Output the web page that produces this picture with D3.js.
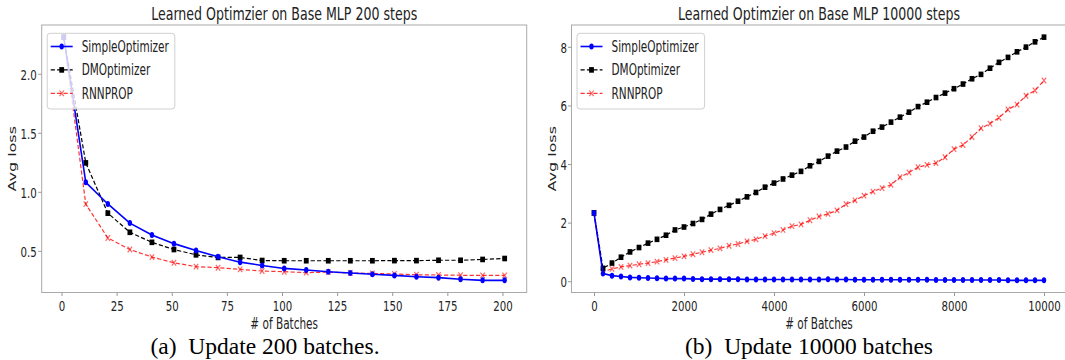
<!DOCTYPE html>
<html>
<head>
<meta charset="utf-8">
<script src="https://cdn.jsdelivr.net/npm/d3@7"></script>
<style>
  body { margin: 0; background: #fff; }
  svg { display: block; }
</style>
</head>
<body>
<svg id="fig" width="1065" height="360"></svg>
<script>
// ---- data ----
var seriesNames = ['SimpleOptimizer', 'DMOptimizer', 'RNNPROP'];

// panel (a): 200 steps
var batchesA = [1, 11, 21, 31, 41, 51, 61, 71, 81, 91, 101, 111, 121, 131, 141, 151, 161, 171, 181, 191, 201];
var simpleA = [2.31, 1.08, 0.897, 0.735, 0.634, 0.561, 0.502, 0.45, 0.404, 0.376, 0.351, 0.337, 0.323, 0.312, 0.301, 0.292, 0.281, 0.273, 0.259, 0.25, 0.25];
var dmA = [2.31, 1.245, 0.819, 0.657, 0.572, 0.511, 0.466, 0.444, 0.444, 0.418, 0.416, 0.416, 0.416, 0.416, 0.416, 0.417, 0.417, 0.42, 0.42, 0.427, 0.435];
var rnnA = [2.31, 0.895, 0.609, 0.511, 0.447, 0.399, 0.366, 0.357, 0.343, 0.329, 0.323, 0.315, 0.32, 0.312, 0.309, 0.304, 0.297, 0.295, 0.293, 0.292, 0.292];
var xTicksA = [0, 25, 50, 75, 100, 125, 150, 175, 200];
var yTicksA = [0.5, 1.0, 1.5, 2.0];

// panel (b): 10000 steps
var batchesB = [0, 200, 400, 600, 800, 1000, 1200, 1400, 1600, 1800, 2000, 2200, 2400, 2600, 2800, 3000, 3200, 3400, 3600, 3800,
  4000, 4200, 4400, 4600, 4800, 5000, 5200, 5400, 5600, 5800, 6000, 6200, 6400, 6600, 6800, 7000, 7200, 7400, 7600, 7800,
  8000, 8200, 8400, 8600, 8800, 9000, 9200, 9400, 9600, 9800, 10000];
var simpleB = [2.33, 0.26, 0.19, 0.16, 0.13, 0.12, 0.11, 0.10, 0.09, 0.09, 0.09, 0.08, 0.07, 0.07, 0.07, 0.07, 0.07, 0.06, 0.06, 0.06,
  0.06, 0.06, 0.06, 0.06, 0.06, 0.06, 0.07, 0.06, 0.06, 0.05, 0.05, 0.05, 0.05, 0.05, 0.05, 0.05, 0.05, 0.05, 0.04, 0.04,
  0.04, 0.04, 0.04, 0.04, 0.04, 0.04, 0.03, 0.03, 0.03, 0.03, 0.03];
var dmB = [2.33, 0.44, 0.62, 0.82, 1.00, 1.15, 1.30, 1.43, 1.57, 1.75, 1.85, 1.97, 2.11, 2.29, 2.45, 2.59, 2.73, 2.88, 3.03, 3.21,
  3.35, 3.49, 3.62, 3.75, 3.94, 4.09, 4.27, 4.44, 4.58, 4.78, 4.92, 5.12, 5.26, 5.43, 5.60, 5.77, 5.96, 6.11, 6.27, 6.42,
  6.57, 6.73, 6.91, 7.06, 7.27, 7.47, 7.64, 7.83, 7.99, 8.17, 8.33];
var rnnB = [2.33, 0.33, 0.42, 0.49, 0.53, 0.58, 0.62, 0.67, 0.73, 0.79, 0.85, 0.92, 0.99, 1.06, 1.12, 1.21, 1.27, 1.36, 1.43, 1.54,
  1.64, 1.75, 1.88, 1.94, 2.08, 2.21, 2.30, 2.42, 2.63, 2.76, 2.92, 3.06, 3.18, 3.29, 3.55, 3.71, 3.89, 3.97, 4.03, 4.23,
  4.51, 4.65, 4.92, 5.22, 5.38, 5.58, 5.86, 6.03, 6.33, 6.51, 6.85];
var xTicksB = [0, 2000, 4000, 6000, 8000, 10000];
var yTicksB = [0, 2, 4, 6, 8];

// ---- drawing ----
var SQ = 0.7;   // the whole figure is squeezed horizontally
var FONT = 'DejaVu Sans, sans-serif';
var svg = d3.select('#fig');

function padded(ext) {
    var m = (ext[1] - ext[0]) * 0.05;
    return [ext[0] - m, ext[1] + m];
}

function sqText(g, x, y, str, size, anchor) {
    return g.append('text')
        .attr('transform', 'translate(' + x + ',' + y + ') scale(' + SQ + ',1)')
        .attr('text-anchor', anchor || 'start')
        .attr('font-family', FONT)
        .attr('font-size', size)
        .attr('fill', '#222')
        .text(str);
}

function drawMarker(g, type, cx, cy) {
    if (type === 0) {
        g.append('ellipse').attr('cx', cx).attr('cy', cy).attr('rx', 2.2).attr('ry', 3)
            .attr('fill', '#0000ff');
    } else if (type === 1) {
        g.append('rect').attr('x', cx - 2.4).attr('y', cy - 2.8).attr('width', 4.8).attr('height', 5.6)
            .attr('fill', '#000');
    } else {
        g.append('path')
            .attr('d', 'M' + (cx - 2.2) + ',' + (cy - 2.8) + 'L' + (cx + 2.2) + ',' + (cy + 2.8) +
                'M' + (cx - 2.2) + ',' + (cy + 2.8) + 'L' + (cx + 2.2) + ',' + (cy - 2.8))
            .attr('stroke', '#ff0000').attr('stroke-opacity', 0.6).attr('stroke-width', 1.2);
    }
}

var styles = [
    {color: '#0000ff', dash: null, width: 1.6, opacity: 1},
    {color: '#000000', dash: '4.2,2.2', width: 1.2, opacity: 1},
    {color: '#ff0000', dash: '4.2,2.2', width: 1.2, opacity: 0.8}
];

function drawPanel(cfg) {
    var g = svg.append('g');
    var left = cfg.left, right = cfg.right, top = 25, bottom = 292.5;

    var allY = cfg.series[0].concat(cfg.series[1], cfg.series[2]);
    var x = d3.scaleLinear().domain(padded(d3.extent(cfg.xs))).range([left, right]);
    var y = d3.scaleLinear().domain(padded(d3.extent(allY))).range([bottom, top]);

    // series, simple optimizer drawn last so it sits on top
    [2, 1, 0].forEach(function (k) {
        var pts = cfg.xs.map(function (d, i) { return [x(d), y(cfg.series[k][i])]; });
        var st = styles[k];
        g.append('path')
            .attr('d', d3.line()(pts))
            .attr('fill', 'none')
            .attr('stroke', st.color)
            .attr('stroke-width', st.width)
            .attr('stroke-opacity', st.opacity)
            .attr('stroke-dasharray', st.dash);
        var mg = g.append('g');
        pts.forEach(function (p) { drawMarker(mg, k, p[0], p[1]); });
    });

    // frame
    g.append('rect')
        .attr('x', left).attr('y', top)
        .attr('width', right - left).attr('height', bottom - top)
        .attr('fill', 'none').attr('stroke', '#aaa').attr('stroke-width', 1);

    // axes
    var xa = g.append('g').attr('transform', 'translate(0,' + bottom + ')')
        .call(d3.axisBottom(x).tickValues(cfg.xTicks).tickSize(3.5).tickFormat(cfg.xFmt));
    var ya = g.append('g').attr('transform', 'translate(' + left + ',0)')
        .call(d3.axisLeft(y).tickValues(cfg.yTicks).tickSize(3.5).tickFormat(cfg.yFmt));
    [xa, ya].forEach(function (a) {
        a.select('.domain').remove();
        a.selectAll('line').attr('stroke', '#999');
        a.selectAll('text')
            .attr('font-family', FONT)
            .attr('font-size', 14.6)
            .attr('fill', '#222');
    });
    xa.selectAll('text').attr('y', 18.8).attr('dy', null).attr('transform', 'scale(' + SQ + ',1)');
    ya.selectAll('text').attr('x', -cfg.labelGap / SQ).attr('dy', '0.36em').attr('transform', 'scale(' + SQ + ',1)');

    // titles and labels
    var cx = (left + right) / 2;
    sqText(g, cx, 20, cfg.title, 18, 'middle');
    sqText(g, cx, 329, '# of Batches', 15, 'middle');
    g.append('text')
        .attr('transform', 'translate(' + cfg.yLabelX + ',' + ((top + bottom) / 2) + ') scale(' + SQ + ',1) rotate(-90)')
        .attr('text-anchor', 'middle')
        .attr('font-family', FONT)
        .attr('font-size', 16)
        .attr('fill', '#222')
        .text('Avg loss');

    // legend
    var lx = left + 5.5, ly = 33.3;
    var lg = g.append('g');
    lg.append('rect')
        .attr('x', lx).attr('y', ly).attr('width', 127.6).attr('height', 75.7).attr('rx', 3)
        .attr('fill', '#fff').attr('fill-opacity', 0.8)
        .attr('stroke', '#d0d0d0').attr('stroke-width', 1);
    seriesNames.forEach(function (name, k) {
        var yy = 46.5 + k * 23.4;
        var st = styles[k];
        lg.append('line')
            .attr('x1', lx + 3.5).attr('x2', lx + 25.5).attr('y1', yy).attr('y2', yy)
            .attr('stroke', st.color).attr('stroke-width', st.width)
            .attr('stroke-opacity', st.opacity)
            .attr('stroke-dasharray', st.dash);
        drawMarker(lg, k, lx + 14.5, yy);
        sqText(lg, lx + 34.5, yy + 5.5, name, 15, 'start');
    });

    // caption
    g.append('text')
        .attr('x', cfg.capX).attr('y', 354)
        .attr('text-anchor', 'middle')
        .attr('font-family', 'Liberation Serif, Times New Roman, serif')
        .attr('font-size', 23.5)
        .attr('fill', '#000')
        .text(cfg.caption);
}

drawPanel({
    left: 41.7, right: 526.7,
    xs: batchesA, series: [simpleA, dmA, rnnA],
    xTicks: xTicksA, yTicks: yTicksA,
    xFmt: d3.format('d'), yFmt: d3.format('.1f'),
    labelGap: 5, yLabelX: 16,
    title: 'Learned Optimzier on Base MLP 200 steps',
    caption: '(a)\u2002Update 200 batches.', capX: 265
});

drawPanel({
    left: 571.5, right: 1066.5,
    xs: batchesB, series: [simpleB, dmB, rnnB],
    xTicks: xTicksB, yTicks: yTicksB,
    xFmt: d3.format('d'), yFmt: d3.format('d'),
    labelGap: 4.5, yLabelX: 556,
    title: 'Learned Optimzier on Base MLP 10000 steps',
    caption: '(b)\u2002Update 10000 batches', capX: 809
});
</script>
</body>
</html>
